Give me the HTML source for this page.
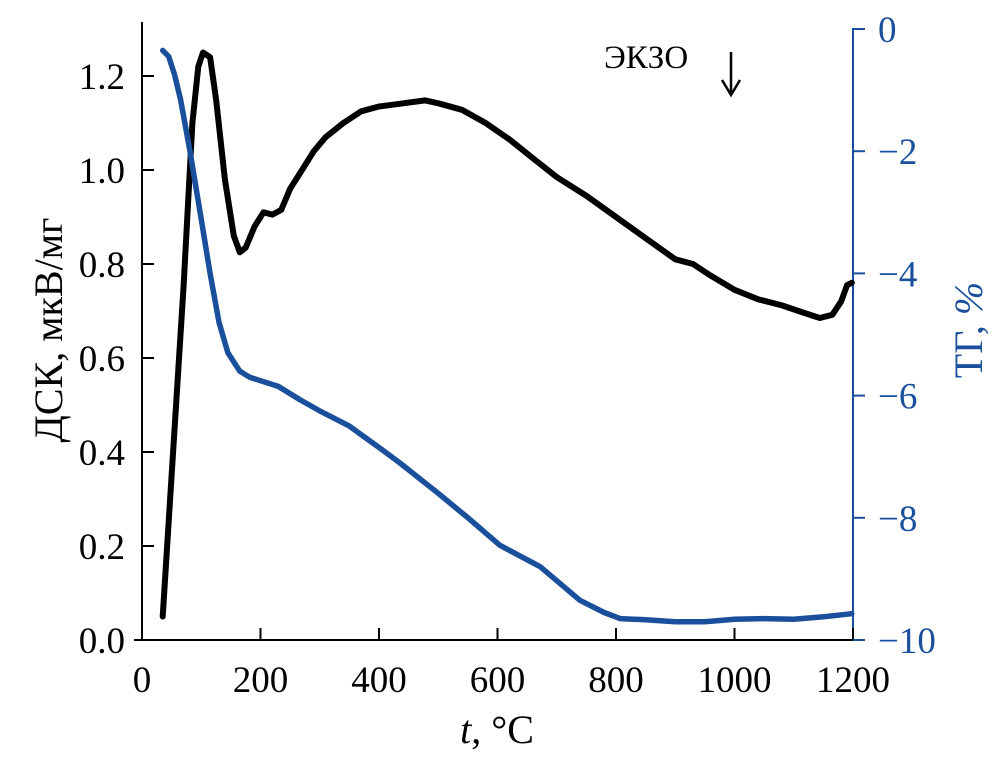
<!DOCTYPE html>
<html><head><meta charset="utf-8"><style>
body{margin:0;background:#fff;}
svg text{font-family:"Liberation Serif","DejaVu Serif",serif;}
</style></head><body>
<svg id="chart" width="1004" height="765" viewBox="0 0 1004 765" xmlns="http://www.w3.org/2000/svg">
<g id="axes"></g>
<g id="series"></g>
<text x="604" y="68" font-size="33">ЭКЗО</text>
<path d="M731,52 L731,94 M722,80 L731,95 L740,80" fill="none" stroke="#000" stroke-width="2.5"/>
<text x="497" y="743" font-size="40" text-anchor="middle"><tspan font-style="italic">t</tspan>, °C</text>
<text transform="translate(62,330) rotate(-90)" font-size="40" text-anchor="middle">ДСК, мкВ/мг</text>
<text transform="translate(982,330) rotate(-90)" font-size="40" text-anchor="middle" fill="#1a4f9c">ТГ, <tspan font-style="italic">%</tspan></text>
</svg>
<script>
const xTicks=[0,200,400,600,800,1000,1200];
const yLeftTicks=[0.0,0.2,0.4,0.6,0.8,1.0,1.2];
const yLeftLabels=["0.0","0.2","0.4","0.6","0.8","1.0","1.2"];
const yRightTicks=[0,-2,-4,-6,-8,-10];
const yRightLabels=["0","−2","−4","−6","−8","−10"];
const dscT=[35,50,70,85,95,103,115,125,140,155,165,175,190,205,220,235,250,270,290,310,340,370,400,430,478,500,540,580,620,660,700,750,800,850,900,930,960,1000,1040,1080,1120,1144,1165,1180,1190,1198];
const dscV=[0.05,0.35,0.75,1.1,1.22,1.25,1.24,1.15,0.98,0.86,0.825,0.835,0.88,0.91,0.905,0.915,0.96,1.0,1.04,1.07,1.1,1.125,1.135,1.14,1.148,1.142,1.128,1.1,1.065,1.025,0.985,0.945,0.9,0.855,0.81,0.8,0.775,0.745,0.725,0.712,0.695,0.685,0.692,0.72,0.755,0.76];
const tgT=[35,45,55,65,81,98,115,130,145,165,182,230,267,300,350,400,435,500,550,604,672,739,780,807,850,900,950,1000,1050,1100,1150,1198];
const tgV=[-0.35,-0.45,-0.75,-1.15,-2.0,-3.0,-4.0,-4.8,-5.3,-5.6,-5.7,-5.85,-6.07,-6.25,-6.5,-6.85,-7.1,-7.6,-8.0,-8.45,-8.8,-9.35,-9.55,-9.65,-9.67,-9.7,-9.7,-9.66,-9.65,-9.66,-9.62,-9.57];
const X=t=>142+t*(853-142)/1200;
const YL=v=>640-v*(640-76)/1.2;
const YR=v=>29+(-v)*(640-29)/10;
const NS='http://www.w3.org/2000/svg';
const axes=document.getElementById('axes'),series=document.getElementById('series');
function mk(tag,attrs,parent,txt){const e=document.createElementNS(NS,tag);for(const k in attrs)e.setAttribute(k,attrs[k]);if(txt!==undefined)e.textContent=txt;parent.appendChild(e);return e;}
let e;
e=mk('line',{x1:134,y1:640,x2:858,y2:640,stroke:'#000','stroke-width':2},axes);


e=mk('line',{x1:142,y1:22,x2:142,y2:640,stroke:'#000','stroke-width':2},axes);


e=mk('line',{x1:853,y1:28,x2:853,y2:640,stroke:'#1a4f9c','stroke-width':2},axes);


xTicks.forEach(t=>{
 e=mk('line',{x1:X(t),y1:640,x2:X(t),y2:628,stroke:'#000','stroke-width':2},axes);
 
 
 e=mk('text',{x:X(t),y:692,'font-size':37,'text-anchor':'middle'},axes,String(t));
 
 
});
yLeftTicks.forEach((v,i)=>{
 e=mk('line',{x1:142,y1:YL(v),x2:154,y2:YL(v),stroke:'#000','stroke-width':2},axes);
 
 
 e=mk('text',{x:125,y:YL(v)+13,'font-size':37,'text-anchor':'end'},axes,yLeftLabels[i]);
 
 
});
yRightTicks.forEach((v,i)=>{
 e=mk('line',{x1:853,y1:YR(v),x2:865,y2:YR(v),stroke:'#1a4f9c','stroke-width':2},axes);
 
 
 e=mk('text',{x:878,y:YR(v)+13,'font-size':37,fill:'#1a4f9c'},axes,yRightLabels[i]);
 
 
});
function path(ts,vs,Y){return ts.map((t,i)=>(i?'L':'M')+X(t).toFixed(1)+','+Y(vs[i]).toFixed(1)).join(' ');}
e=mk('path',{d:path(dscT,dscV,YL),fill:'none',stroke:'#000','stroke-width':6,'stroke-linejoin':'round','stroke-linecap':'round'},series);


e=mk('path',{d:path(tgT,tgV,YR),fill:'none',stroke:'#1a4f9c','stroke-width':5.5,'stroke-linejoin':'round','stroke-linecap':'round'},series);


</script>
</body></html>
